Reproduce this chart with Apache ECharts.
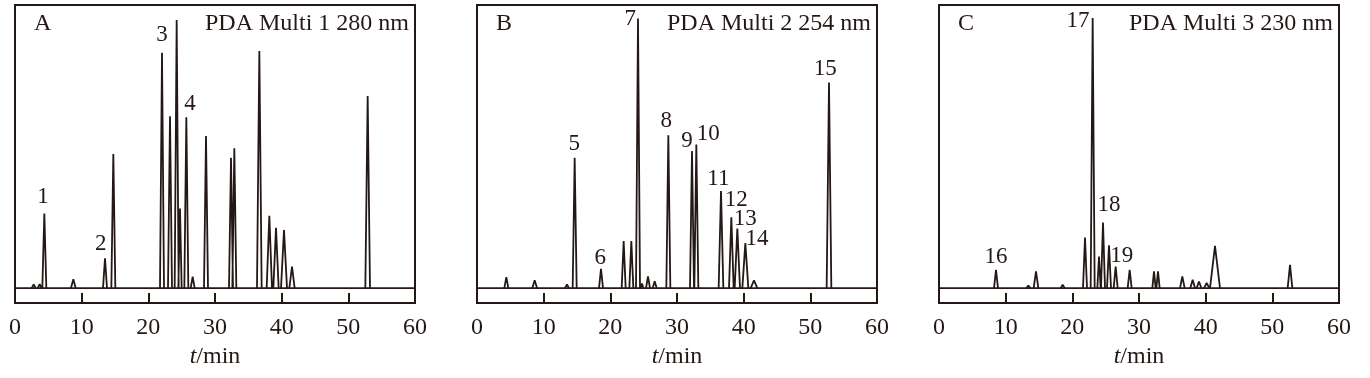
<!DOCTYPE html>
<html>
<head>
<meta charset="utf-8">
<script src="https://cdn.jsdelivr.net/npm/echarts@6/dist/echarts.min.js"></script>
<style>
  html, body { margin: 0; padding: 0; background: #fff; }
  #chart { width: 1370px; height: 378px; }
</style>
</head>
<body>
<div id="chart"></div>
<script>
// peak retention times (min), heights (arbitrary units, baseline = 0) and half widths
const peakTimeA = [2.8, 3.7, 4.4, 8.75, 13.5, 14.75, 22.05, 23.25, 24.25, 24.75, 25.7, 26.65, 28.65, 32.4, 32.9, 36.65, 38.15, 39.15, 40.35, 41.55, 52.9];
const peakHeightA = [1.2, 1.3, 25, 3, 10, 45, 79, 57.7, 90, 26.7, 57.3, 3.8, 51, 43.7, 46.9, 79.6, 24.3, 20.2, 19.5, 7.2, 64.5];
const peakWidthA = [0.3, 0.3, 0.3, 0.35, 0.3, 0.3, 0.3, 0.3, 0.3, 0.25, 0.3, 0.3, 0.3, 0.3, 0.3, 0.35, 0.4, 0.4, 0.45, 0.4, 0.35];

const peakTimeB = [4.4, 8.65, 13.5, 14.65, 18.6, 22.0, 23.15, 24.15, 24.75, 25.65, 26.65, 28.7, 32.25, 32.9, 36.6, 38.15, 39.05, 40.25, 41.55, 52.8];
const peakHeightB = [3.7, 2.6, 1.2, 43.7, 6.5, 15.8, 15.8, 90.5, 1.5, 3.9, 2.3, 51.3, 46, 48.2, 32.6, 23.8, 20, 15.1, 2.6, 69];
const peakWidthB = [0.3, 0.35, 0.3, 0.3, 0.3, 0.3, 0.3, 0.3, 0.2, 0.3, 0.3, 0.3, 0.3, 0.3, 0.35, 0.35, 0.4, 0.45, 0.5, 0.35];

const peakTimeC = [8.55, 13.4, 14.55, 18.55, 21.9, 23.05, 24.0, 24.6, 25.5, 26.5, 28.6, 32.25, 32.85, 36.5, 38.05, 39.0, 40.15, 41.4, 52.65];
const peakHeightC = [6.1, 0.9, 5.6, 1.1, 17, 90.6, 10.6, 22, 14.4, 7.2, 6.1, 5.6, 5.6, 3.9, 2.8, 2.2, 1.7, 14.2, 7.8];
const peakWidthC = [0.3, 0.3, 0.35, 0.3, 0.3, 0.3, 0.25, 0.3, 0.3, 0.3, 0.3, 0.25, 0.25, 0.35, 0.35, 0.35, 0.4, 0.75, 0.35];

// peak number annotations (time, level, text)
const markTimeA = [4.2, 12.85, 22.05, 26.25];
const markLevelA = [30.5, 14.8, 84.9, 61.7];
const markTextA = ['1', '2', '3', '4'];

const markTimeB = [14.6, 18.5, 23.0, 28.4, 31.5, 34.7, 36.2, 38.9, 40.25, 42.0, 52.25];
const markLevelB = [48.3, 10.1, 90.3, 56, 49.3, 51.7, 36.6, 29.5, 23.2, 16.4, 73.5];
const markTextB = ['5', '6', '7', '8', '9', '10', '11', '12', '13', '14', '15'];

const markTimeC = [8.55, 20.85, 25.5, 27.4];
const markLevelC = [10.5, 89.7, 28, 10.8];
const markTextC = ['16', '17', '18', '19'];

const panelLetters = ['A', 'B', 'C'];
const panelTitles = ['PDA Multi 1 280 nm', 'PDA Multi 2 254 nm', 'PDA Multi 3 230 nm'];
const xTicks = [0, 10, 20, 30, 40, 50, 60];

const ink = '#231815';
const serif = '"Liberation Serif", "Times New Roman", serif';

function peakLine(times, heights, widths) {
  const pts = [];
  times.forEach((t, i) => {
    pts.push([t - widths[i], 0], [t, heights[i]], [t + widths[i], 0], [t + widths[i], '-']);
  });
  return pts;
}

function marks(times, levels, texts) {
  return times.map((t, i) => ({ value: [t, levels[i]], name: texts[i] }));
}

const panels = [
  { left: 15, peaks: [peakTimeA, peakHeightA, peakWidthA], marks: [markTimeA, markLevelA, markTextA] },
  { left: 477, peaks: [peakTimeB, peakHeightB, peakWidthB], marks: [markTimeB, markLevelB, markTextB] },
  { left: 939, peaks: [peakTimeC, peakHeightC, peakWidthC], marks: [markTimeC, markLevelC, markTextC] },
];

const grid = [], xAxis = [], yAxis = [], series = [], graphic = [];

panels.forEach((p, k) => {
  grid.push({
    left: p.left, top: 5, width: 400, height: 298,
    show: true, borderColor: ink, borderWidth: 2, backgroundColor: 'transparent'
  });
  xAxis.push({
    type: 'value', gridIndex: k,
    min: xTicks[0], max: xTicks[xTicks.length - 1], interval: 10,
    axisLine: { onZero: false, lineStyle: { color: ink, width: 2 } },
    axisTick: { inside: true, length: 10, lineStyle: { color: ink, width: 2 } },
    axisLabel: { color: ink, fontFamily: serif, fontSize: 24, margin: 13 },
    splitLine: { show: false },
    name: '{i|t}/min',
    nameLocation: 'middle',
    nameGap: 42,
    nameTextStyle: {
      color: ink, fontFamily: serif, fontSize: 24,
      rich: { i: { fontStyle: 'italic', fontFamily: serif, fontSize: 24, color: ink } }
    }
  });
  yAxis.push({
    type: 'value', gridIndex: k, min: -5, max: 95,
    show: false, splitLine: { show: false }
  });
  series.push({
    type: 'line', xAxisIndex: k, yAxisIndex: k,
    data: [[xTicks[0], 0], [xTicks[xTicks.length - 1], 0]],
    symbol: 'none', lineStyle: { color: ink, width: 1.8 }, silent: true
  });
  series.push({
    type: 'line', xAxisIndex: k, yAxisIndex: k,
    data: peakLine(...p.peaks),
    connectNulls: false,
    symbol: 'none', lineStyle: { color: ink, width: 1.8 }, silent: true
  });
  series.push({
    type: 'scatter', xAxisIndex: k, yAxisIndex: k,
    data: marks(...p.marks),
    symbolSize: 0,
    itemStyle: { opacity: 1 },
    label: {
      show: true, position: 'inside', formatter: '{b}', opacity: 1,
      color: ink, fontFamily: serif, fontSize: 23
    },
    silent: true
  });
  graphic.push({
    type: 'text', left: p.left + 19, top: 12,
    style: { text: panelLetters[k], fill: ink, font: '24px ' + serif }
  });
  graphic.push({
    type: 'text', right: 1370 - (p.left + 394), top: 12,
    style: { text: panelTitles[k], fill: ink, font: '24px ' + serif }
  });
});

const chart = echarts.init(document.getElementById('chart'));
chart.setOption({
  animation: false,
  backgroundColor: '#fff',
  grid, xAxis, yAxis, series, graphic
});
</script>
</body>
</html>
